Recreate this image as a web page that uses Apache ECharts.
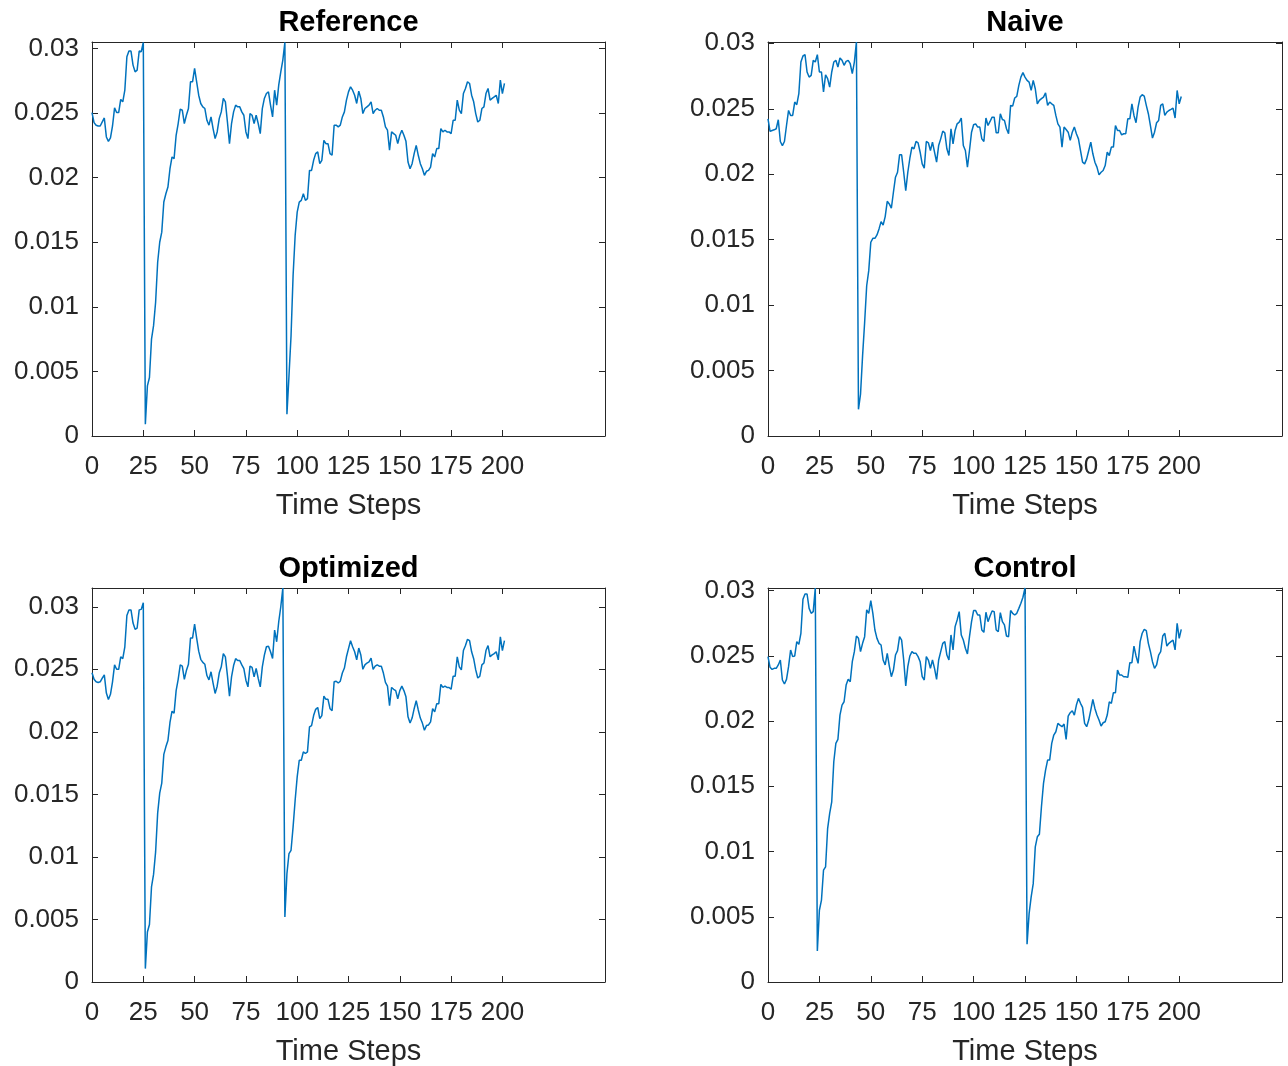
<!DOCTYPE html>
<html>
<head>
<meta charset="utf-8">
<script src="https://cdn.jsdelivr.net/npm/echarts@6/dist/echarts.min.js"></script>
<style>
html,body{margin:0;padding:0;background:#fff;}
#chart{width:1288px;height:1066px;}
</style>
</head>
<body>
<div id="chart"></div>
<script>
const titles = ['Reference', 'Naive', 'Optimized', 'Control'];
const xTicks = [0, 25, 50, 75, 100, 125, 150, 175, 200];
const yTicks = [0, 0.005, 0.01, 0.015, 0.02, 0.025, 0.03];
const yTickLabels = ['0', '0.005', '0.01', '0.015', '0.02', '0.025', '0.03'];
const xLabel = 'Time Steps';

const reference = [
0.02504,0.02426,0.02406,0.02400,0.02400,0.02431,0.02462,0.02315,0.02281,0.02307,
0.02400,0.02540,0.02504,0.02504,0.02605,0.02587,0.02677,0.02936,0.02980,0.02980,
0.02871,0.02819,0.02832,0.02980,0.02975,0.03047,0.00091,0.00388,0.00453,0.00750,
0.00854,0.01035,0.01345,0.01500,0.01578,0.01811,0.01875,0.01927,0.02069,0.02160,
0.02147,0.02328,0.02419,0.02530,0.02522,0.02419,0.02483,0.02535,0.02742,0.02742,
0.02845,0.02742,0.02638,0.02574,0.02548,0.02535,0.02444,0.02406,0.02470,0.02380,
0.02302,0.02354,0.02457,0.02509,0.02613,0.02587,0.02431,0.02263,0.02419,0.02509,
0.02561,0.02548,0.02548,0.02509,0.02483,0.02354,0.02302,0.02496,0.02483,0.02419,
0.02483,0.02419,0.02341,0.02535,0.02613,0.02651,0.02664,0.02561,0.02470,0.02677,
0.02561,0.02716,0.02819,0.02910,0.03047,0.00168,0.00466,0.00776,0.01242,0.01552,
0.01733,0.01811,0.01824,0.01875,0.01824,0.01837,0.02056,0.02056,0.02134,0.02186,
0.02199,0.02108,0.02134,0.02289,0.02263,0.02263,0.02186,0.02173,0.02406,0.02406,
0.02393,0.02406,0.02470,0.02509,0.02600,0.02664,0.02703,0.02677,0.02638,0.02574,
0.02669,0.02613,0.02496,0.02535,0.02548,0.02561,0.02587,0.02496,0.02522,0.02535,
0.02522,0.02522,0.02470,0.02393,0.02367,0.02212,0.02354,0.02341,0.02328,0.02263,
0.02328,0.02367,0.02328,0.02281,0.02121,0.02069,0.02108,0.02186,0.02250,0.02173,
0.02108,0.02069,0.02018,0.02049,0.02056,0.02082,0.02186,0.02160,0.02225,0.02225,
0.02380,0.02354,0.02367,0.02354,0.02354,0.02341,0.02444,0.02444,0.02600,0.02522,
0.02496,0.02651,0.02690,0.02742,0.02729,0.02638,0.02587,0.02496,0.02431,0.02444,
0.02535,0.02548,0.02651,0.02690,0.02600,0.02613,0.02625,0.02638,0.02574,0.02755,
0.02651,0.02729
];

const naive = [
0.02423,0.02327,0.02334,0.02339,0.02347,0.02416,0.02250,0.02219,0.02250,0.02372,
0.02487,0.02449,0.02449,0.02551,0.02531,0.02615,0.02857,0.02903,0.02913,0.02781,
0.02742,0.02755,0.02870,0.02857,0.02913,0.02781,0.02781,0.02628,0.02760,0.02730,
0.02666,0.02781,0.02857,0.02870,0.02819,0.02888,0.02870,0.02832,0.02862,0.02870,
0.02844,0.02768,0.02857,0.03010,0.00204,0.00319,0.00612,0.00867,0.01148,0.01263,
0.01480,0.01510,0.01510,0.01536,0.01582,0.01638,0.01612,0.01676,0.01793,0.01773,
0.01740,0.01862,0.01977,0.02015,0.02148,0.02148,0.02015,0.01875,0.02015,0.02122,
0.02207,0.02194,0.02250,0.02240,0.02168,0.02079,0.02046,0.02250,0.02240,0.02181,
0.02245,0.02168,0.02092,0.02219,0.02270,0.02329,0.02316,0.02194,0.02143,0.02347,
0.02232,0.02334,0.02385,0.02398,0.02429,0.02219,0.02181,0.02054,0.02181,0.02321,
0.02378,0.02385,0.02360,0.02360,0.02270,0.02250,0.02429,0.02372,0.02403,0.02436,
0.02436,0.02316,0.02316,0.02462,0.02418,0.02411,0.02347,0.02309,0.02526,0.02520,
0.02582,0.02594,0.02679,0.02742,0.02776,0.02742,0.02717,0.02704,0.02640,0.02717,
0.02653,0.02538,0.02564,0.02577,0.02589,0.02622,0.02526,0.02551,0.02538,0.02526,
0.02449,0.02385,0.02360,0.02207,0.02360,0.02342,0.02321,0.02258,0.02321,0.02360,
0.02309,0.02270,0.02181,0.02092,0.02079,0.02117,0.02181,0.02245,0.02156,0.02092,
0.02054,0.01995,0.02015,0.02028,0.02066,0.02168,0.02143,0.02207,0.02207,0.02372,
0.02334,0.02334,0.02301,0.02309,0.02309,0.02423,0.02423,0.02538,0.02449,0.02393,
0.02513,0.02589,0.02607,0.02597,0.02526,0.02462,0.02372,0.02276,0.02321,0.02393,
0.02411,0.02526,0.02538,0.02449,0.02474,0.02487,0.02495,0.02505,0.02429,0.02640,
0.02538,0.02594
];

const optimized = [
0.02472,0.02420,0.02400,0.02395,0.02400,0.02430,0.02455,0.02310,0.02259,0.02300,
0.02400,0.02535,0.02500,0.02500,0.02600,0.02585,0.02680,0.02930,0.02975,0.02975,
0.02870,0.02820,0.02830,0.02975,0.02979,0.03032,0.00107,0.00400,0.00460,0.00760,
0.00860,0.01040,0.01350,0.01510,0.01590,0.01820,0.01880,0.01930,0.02075,0.02165,
0.02150,0.02330,0.02420,0.02535,0.02525,0.02420,0.02490,0.02540,0.02750,0.02750,
0.02861,0.02750,0.02645,0.02580,0.02555,0.02540,0.02450,0.02415,0.02480,0.02390,
0.02307,0.02365,0.02470,0.02520,0.02625,0.02600,0.02450,0.02285,0.02440,0.02530,
0.02585,0.02570,0.02570,0.02535,0.02505,0.02413,0.02360,0.02525,0.02515,0.02440,
0.02507,0.02427,0.02360,0.02520,0.02613,0.02680,0.02685,0.02640,0.02587,0.02813,
0.02720,0.02880,0.03000,0.03150,0.00520,0.00867,0.01027,0.01053,0.01240,0.01453,
0.01640,0.01773,0.01773,0.01840,0.01827,0.01840,0.02040,0.02050,0.02130,0.02180,
0.02195,0.02105,0.02130,0.02285,0.02260,0.02260,0.02185,0.02170,0.02400,0.02405,
0.02390,0.02405,0.02470,0.02510,0.02600,0.02665,0.02728,0.02680,0.02640,0.02575,
0.02670,0.02615,0.02500,0.02535,0.02550,0.02560,0.02590,0.02500,0.02525,0.02535,
0.02525,0.02525,0.02470,0.02395,0.02365,0.02210,0.02355,0.02340,0.02330,0.02265,
0.02330,0.02365,0.02330,0.02280,0.02120,0.02070,0.02110,0.02185,0.02250,0.02175,
0.02110,0.02070,0.02013,0.02050,0.02055,0.02080,0.02185,0.02160,0.02225,0.02225,
0.02380,0.02355,0.02365,0.02355,0.02355,0.02340,0.02445,0.02445,0.02600,0.02520,
0.02495,0.02650,0.02690,0.02740,0.02730,0.02640,0.02585,0.02495,0.02430,0.02445,
0.02535,0.02550,0.02650,0.02690,0.02600,0.02615,0.02625,0.02640,0.02575,0.02760,
0.02650,0.02730
];

const control = [
0.02494,0.02412,0.02396,0.02404,0.02404,0.02430,0.02468,0.02315,0.02284,0.02320,
0.02417,0.02545,0.02494,0.02499,0.02609,0.02588,0.02673,0.02934,0.02974,0.02974,
0.02864,0.02826,0.02839,0.03020,0.00238,0.00550,0.00627,0.00857,0.00882,0.01176,
0.01292,0.01381,0.01688,0.01829,0.01859,0.02046,0.02123,0.02148,0.02276,0.02320,
0.02302,0.02455,0.02532,0.02652,0.02634,0.02532,0.02596,0.02647,0.02852,0.02826,
0.02923,0.02826,0.02698,0.02634,0.02596,0.02583,0.02468,0.02430,0.02519,0.02422,
0.02340,0.02391,0.02506,0.02540,0.02647,0.02621,0.02468,0.02269,0.02417,0.02499,
0.02532,0.02519,0.02519,0.02494,0.02455,0.02340,0.02315,0.02494,0.02468,0.02404,
0.02468,0.02404,0.02320,0.02468,0.02532,0.02596,0.02609,0.02506,0.02468,0.02660,
0.02545,0.02724,0.02775,0.02839,0.02660,0.02621,0.02558,0.02514,0.02647,0.02762,
0.02847,0.02847,0.02813,0.02813,0.02698,0.02680,0.02834,0.02762,0.02806,0.02844,
0.02839,0.02698,0.02685,0.02831,0.02762,0.02737,0.02652,0.02647,0.02847,0.02826,
0.02813,0.02826,0.02864,0.02903,0.02949,0.03020,0.00289,0.00524,0.00652,0.00754,
0.01036,0.01113,0.01133,0.01343,0.01522,0.01624,0.01701,0.01701,0.01829,0.01893,
0.01918,0.01982,0.01969,0.01957,0.01977,0.01859,0.02038,0.02064,0.02079,0.02046,
0.02123,0.02174,0.02136,0.02105,0.01982,0.01957,0.02008,0.02084,0.02166,0.02097,
0.02046,0.02008,0.01962,0.01987,0.01995,0.02046,0.02148,0.02136,0.02217,0.02217,
0.02391,0.02353,0.02353,0.02340,0.02340,0.02335,0.02448,0.02448,0.02575,0.02499,
0.02442,0.02609,0.02673,0.02703,0.02693,0.02596,0.02532,0.02455,0.02404,0.02430,
0.02506,0.02532,0.02652,0.02673,0.02575,0.02596,0.02609,0.02621,0.02545,0.02749,
0.02634,0.02703
];

const seriesData = [reference, naive, optimized, control];
const yMax = [0.0305, 0.0301, 0.0315, 0.0302];

const FONT = 'Liberation Sans, Arial, Helvetica, sans-serif';
const AX = '#262626';
const boxes = [
  {left: 92, top: 42, width: 513, height: 394},
  {left: 768, top: 42, width: 514, height: 394},
  {left: 92, top: 588, width: 513, height: 394},
  {left: 768, top: 588, width: 514, height: 394}
];

const grid = [], xAxis = [], yAxis = [], series = [], title = [];
boxes.forEach((b, i) => {
  grid.push(Object.assign({containLabel: false, outerBoundsMode: 'none'}, b));
  title.push({
    text: titles[i], left: b.left + b.width / 2, top: b.top - 34, textAlign: 'center', padding: 0,
    textStyle: {fontFamily: FONT, fontSize: 29, fontWeight: 'bold', color: '#000'}
  });
  const xCommon = {
    type: 'value', gridIndex: i, min: 0, max: 250, interval: 25,
    axisLine: {show: true, onZero: false, lineStyle: {color: AX, width: 1}},
    axisTick: {show: true, inside: true, length: 6, customValues: xTicks, lineStyle: {color: AX, width: 1}},
    splitLine: {show: false}
  };
  xAxis.push(Object.assign({}, xCommon, {
    position: 'bottom',
    name: xLabel, nameLocation: 'middle', nameGap: 55,
    nameTextStyle: {fontFamily: FONT, fontSize: 29, color: AX},
    axisLabel: {show: true, customValues: xTicks, margin: 18, fontFamily: FONT, fontSize: 26, color: AX,
      formatter: v => String(xTicks[xTicks.indexOf(v)])}
  }));
  xAxis.push(Object.assign({}, xCommon, {position: 'top', axisLabel: {show: false}}));
  const yCommon = {
    type: 'value', gridIndex: i, min: 0, max: yMax[i], interval: 0.005,
    axisLine: {show: true, onZero: false, lineStyle: {color: AX, width: 1}},
    axisTick: {show: true, inside: true, length: 6, customValues: yTicks, lineStyle: {color: AX, width: 1}},
    splitLine: {show: false}
  };
  yAxis.push(Object.assign({}, yCommon, {
    position: 'left',
    axisLabel: {show: true, customValues: yTicks, margin: 13, fontFamily: FONT, fontSize: 26, color: AX,
      formatter: v => {
        let k = 0, d = Infinity;
        yTicks.forEach((t, j) => { if (Math.abs(t - v) < d) { d = Math.abs(t - v); k = j; } });
        return yTickLabels[k];
      }}
  }));
  yAxis.push(Object.assign({}, yCommon, {position: 'right', axisLabel: {show: false}}));
  series.push({
    type: 'line', xAxisIndex: i * 2, yAxisIndex: i * 2,
    data: seriesData[i].map((v, t) => [t, v]),
    showSymbol: false, symbol: 'none', clip: true,
    lineStyle: {color: '#0072BD', width: 1.5},
    emphasis: {disabled: true}
  });
});

const chart = echarts.init(document.getElementById('chart'), null, {renderer: 'canvas'});
chart.setOption({
  backgroundColor: '#fff',
  animation: false,
  title, grid, xAxis, yAxis, series
});
</script>
</body>
</html>
